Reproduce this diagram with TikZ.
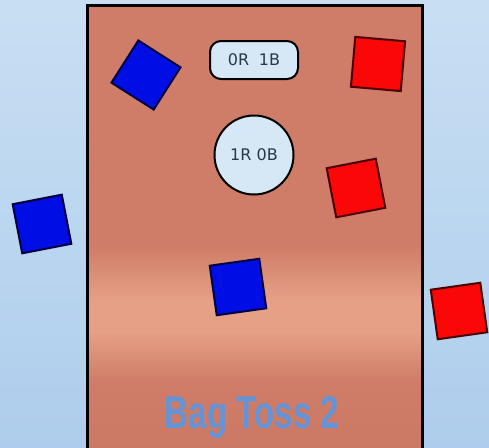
\documentclass[tikz,border=0pt]{standalone}
\usepackage{fontspec}
\usepackage{xcolor}
\usetikzlibrary{positioning, calc}
\setsansfont{DejaVu Sans}
\newfontfamily\titlefont{Liberation Sans Bold}[FakeStretch=0.72]
\definecolor{skyblue}{RGB}{200,223,243}
\definecolor{skyblue2}{RGB}{174,205,236}
\definecolor{wood}{RGB}{207,125,104}
\definecolor{wooddark}{RGB}{203,121,100}
\definecolor{woodlight}{RGB}{230,160,133}
\definecolor{bagblue}{RGB}{0,14,230}
\definecolor{bagred}{RGB}{250,8,8}
\definecolor{tagfill}{RGB}{214,232,245}
\definecolor{tagtext}{RGB}{40,56,70}
\definecolor{titleblue}{RGB}{100,148,216}
\pgfdeclareverticalshading{boardwood}{100bp}{color(0bp)=(wooddark); color(25bp)=(wooddark);
  color(33bp)=(wood); color(38.5bp)=(woodlight); color(42bp)=(woodlight); color(48bp)=(wood);
  color(75bp)=(wood); color(100bp)=(wood)}
\begin{document}
\begin{tikzpicture}[x=1pt, y=-1pt,
    bag/.style={rectangle, draw, line width=2pt, minimum size=50pt, inner sep=0pt},
    bluebag/.style={bag, fill=bagblue, draw=blue!25!black},
    redbag/.style={bag, fill=bagred, draw=red!30!black},
    tag/.style={draw=black, line width=2pt, fill=tagfill, text=tagtext, font=\sffamily\fontsize{16}{16}\selectfont}]
    % background and board
    \shade[top color=skyblue, bottom color=skyblue2] (0,0) rectangle (489,447);
    \useasboundingbox (0,0) rectangle (489,447);
    \shade[shading=boardwood] (87,5) rectangle (422,452);
    \draw[line width=3pt] (87,452) -- (87,5) -- (422,5) -- (422,452);
    % score tags
    \node[tag, rounded corners=11pt, minimum width=88pt, minimum height=38pt] (score) at (254,60) {0R\hspace{0.6em}1B};
    \node[tag, circle, minimum size=79pt, inner sep=0pt] (round) at (254,155) {1R 0B};
    % bags
    \node[bluebag, rotate=-32.5] (blueA) at (146,75) {};
    \node[redbag, rotate=-5] (redA) at (378,64) {};
    \node[redbag, rotate=11] (redB) at (356,188) {};
    \node[bluebag, rotate=11] (blueB) at (42,224) {};
    \node[bluebag, rotate=8] (blueC) at (238,287) {};
    \node[redbag, rotate=8] (redC) at (459,311) {};
    % title
    \node[text=titleblue, font=\titlefont\fontsize{46}{46}\selectfont] (title) at (252,417) {Bag Toss 2};
\end{tikzpicture}
\end{document}
